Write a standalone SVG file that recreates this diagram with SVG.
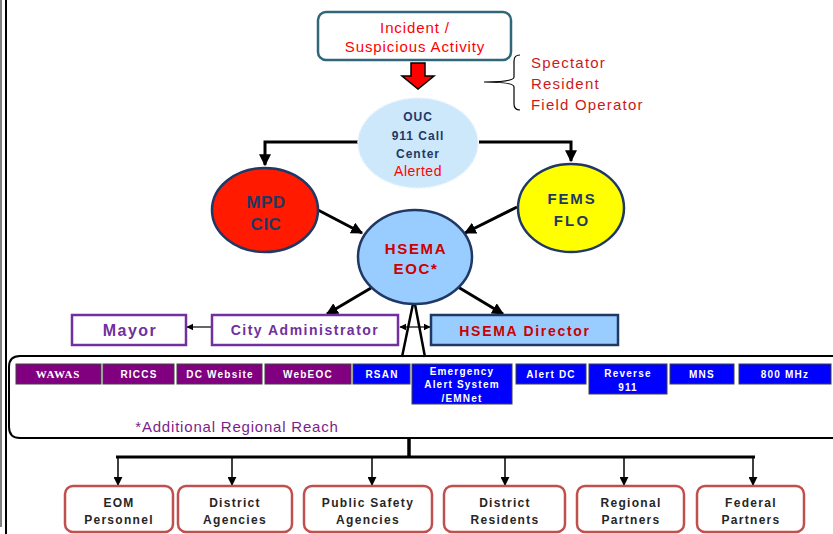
<svg xmlns="http://www.w3.org/2000/svg" width="833" height="534" viewBox="0 0 833 534">
<defs>
<style>
.t{font-family:"Liberation Sans",Arial,sans-serif;}
.nav{fill:#1F3864;font-weight:bold;}
.red{fill:#CC0000;font-weight:bold;}
.ln{stroke:#000;stroke-width:3;fill:none;}
.bar{stroke:#404040;stroke-width:1;}
.bt{fill:#fff;font-weight:bold;font-size:10px;letter-spacing:1.2px;text-anchor:middle;}
.pb{fill:#fff;stroke:#7030A0;stroke-width:2.5;}
.rb{fill:#fff;stroke:#C0504D;stroke-width:2.5;}
.rbt{fill:#262626;font-weight:bold;font-size:12px;letter-spacing:1.3px;text-anchor:middle;}
</style>
<marker id="ah" viewBox="0 0 10 10" refX="9" refY="5" markerWidth="4" markerHeight="4" orient="auto-start-reverse" markerUnits="strokeWidth">
<path d="M0,0 L10,5 L0,10 z" fill="#000"/>
</marker>
<marker id="ahs" viewBox="0 0 10 10" refX="9" refY="5" markerWidth="6" markerHeight="6" orient="auto-start-reverse" markerUnits="strokeWidth">
<path d="M0,0 L10,5 L0,10 z" fill="#000"/>
</marker>
</defs>
<rect width="833" height="534" fill="#fff"/>
<!-- left border lines -->
<line x1="1" y1="0" x2="1" y2="527" stroke="#000" stroke-width="1"/>
<line x1="6" y1="0" x2="6" y2="534" stroke="#000" stroke-width="2"/>

<!-- bottom panel -->
<g id="panel">
<path d="M834,356 H20 Q9,356 9,367 V427 Q9,438 20,438 H834" fill="#fff" stroke="#000" stroke-width="2"/>
<text class="t" x="237" y="432" font-size="15" fill="#7A1F8A" text-anchor="middle" letter-spacing="0.8">*Additional Regional Reach</text>
</g>

<g id="connectors">
<path class="ln" d="M358,142 H265 V165" marker-end="url(#ah)"/>
<path class="ln" d="M479,142 H571 V161" marker-end="url(#ah)"/>
<line class="ln" x1="318" y1="210" x2="362" y2="233" marker-end="url(#ah)"/>
<line class="ln" x1="517" y1="207" x2="465" y2="233" marker-end="url(#ah)"/>
<line class="ln" x1="371" y1="288" x2="327" y2="314" marker-end="url(#ah)"/>
<line class="ln" x1="458" y1="287" x2="503" y2="314" marker-end="url(#ah)"/>
<line x1="211" y1="327" x2="187" y2="327" stroke="#000" stroke-width="1.2" marker-end="url(#ahs)"/>
<line x1="400" y1="327" x2="430" y2="327" stroke="#000" stroke-width="1.2" marker-start="url(#ahs)" marker-end="url(#ahs)"/>
<path d="M402,357 L414,299 L425,357" fill="none" stroke="#000" stroke-width="2.5"/>
<line x1="409" y1="438" x2="409" y2="457" stroke="#000" stroke-width="3.5"/>
<line x1="116" y1="457" x2="755" y2="457" stroke="#000" stroke-width="3"/>
<g stroke="#000" stroke-width="1.5" marker-end="url(#ahs)">
<line x1="118" y1="457" x2="118" y2="485"/>
<line x1="232" y1="457" x2="232" y2="485"/>
<line x1="372" y1="457" x2="372" y2="485"/>
<line x1="505" y1="457" x2="505" y2="485"/>
<line x1="624" y1="457" x2="624" y2="485"/>
<line x1="753" y1="457" x2="753" y2="485"/>
</g>
<!-- red block arrow -->
<path d="M411,63 H425 V76 H434 L418,89 L402,76 H411 Z" fill="#FF0000" stroke="#000" stroke-width="1.5"/>
<!-- brace -->
<path d="M520,55 Q514,55 514,61 V77 Q514,82 484,82 Q514,82 514,87 V104 Q514,110 520,110" fill="none" stroke="#000" stroke-width="1.2"/>
</g>

<g id="incident">
<rect x="318" y="12" width="193" height="48" rx="8" fill="#fff" stroke="#31657A" stroke-width="2.5"/>
<text class="t" x="415" y="33" font-size="15" fill="#FF0000" text-anchor="middle" letter-spacing="0.9">Incident /</text>
<text class="t" x="415" y="52" font-size="15" fill="#FF0000" text-anchor="middle" letter-spacing="0.9">Suspicious Activity</text>
</g>

<g id="sources">
<text class="t" x="531" y="68" font-size="15" fill="#CC1A1A" letter-spacing="1.2">Spectator</text>
<text class="t" x="531" y="89" font-size="15" fill="#CC1A1A" letter-spacing="1.2">Resident</text>
<text class="t" x="531" y="110" font-size="15" fill="#CC1A1A" letter-spacing="1.2">Field Operator</text>
</g>

<g id="ouc">
<ellipse cx="418" cy="143" rx="60" ry="45" fill="#CCE8FA" stroke="#E8F4FC" stroke-width="1.5" stroke-dasharray="3,2"/>
<text class="t nav" x="418" y="121" font-size="12" text-anchor="middle" letter-spacing="1">OUC</text>
<text class="t nav" x="418" y="140" font-size="12" text-anchor="middle" letter-spacing="1">911 Call</text>
<text class="t nav" x="418" y="158" font-size="12" text-anchor="middle" letter-spacing="1">Center</text>
<text class="t" x="418" y="176" font-size="14" fill="#FF0000" text-anchor="middle" letter-spacing="0.5">Alerted</text>
</g>

<g id="mpd">
<ellipse cx="265" cy="210" rx="53" ry="42" fill="#FF1A00" stroke="#1F3864" stroke-width="2.5"/>
<text class="t nav" x="266" y="208" font-size="17" text-anchor="middle" letter-spacing="0.5">MPD</text>
<text class="t nav" x="266" y="230" font-size="17" text-anchor="middle" letter-spacing="0.5">CIC</text>
</g>

<g id="fems">
<ellipse cx="571" cy="208" rx="53" ry="44" fill="#FFFF00" stroke="#1F3864" stroke-width="2.5"/>
<text class="t nav" x="572" y="204" font-size="15" text-anchor="middle" letter-spacing="1.8">FEMS</text>
<text class="t nav" x="572" y="226" font-size="15" text-anchor="middle" letter-spacing="2.2">FLO</text>
</g>

<g id="eoc">
<ellipse cx="415" cy="257" rx="57" ry="47" fill="#99CCFF" stroke="#1F3864" stroke-width="2.5"/>
<text class="t red" x="416" y="254" font-size="15" text-anchor="middle" letter-spacing="1.7">HSEMA</text>
<text class="t red" x="416" y="274" font-size="15" text-anchor="middle" letter-spacing="1.7">EOC*</text>
</g>

<g id="mayor">
<rect class="pb" x="72" y="315" width="114" height="30"/>
<text class="t" x="130" y="336" font-size="16" font-weight="bold" fill="#7030A0" text-anchor="middle" letter-spacing="1.5">Mayor</text>
</g>
<g id="cityadmin">
<rect class="pb" x="212" y="315" width="186" height="30"/>
<text class="t" x="305" y="335" font-size="14" font-weight="bold" fill="#7030A0" text-anchor="middle" letter-spacing="1.5">City Administrator</text>
</g>
<g id="director">
<rect x="431" y="315" width="187" height="30" fill="#99CCFF" stroke="#1F3864" stroke-width="2.5"/>
<text class="t red" x="525" y="336" font-size="14" text-anchor="middle" letter-spacing="1.7">HSEMA Director</text>
</g>

<g id="wawas"><rect class="bar" x="16" y="364" width="85" height="20" fill="#800080"/><text x="58" y="378" fill="#fff" font-family="Liberation Serif,serif" font-weight="bold" font-size="11" text-anchor="middle" letter-spacing="0.8">WAWAS</text></g>
<g id="riccs"><rect class="bar" x="103" y="364" width="71" height="20" fill="#800080"/><text class="t bt" x="139" y="378">RICCS</text></g>
<g id="dcweb"><rect class="bar" x="177" y="364" width="85" height="20" fill="#800080"/><text class="t bt" x="220" y="378">DC Website</text></g>
<g id="webeoc"><rect class="bar" x="265" y="364" width="86" height="20" fill="#800080"/><text class="t bt" x="308" y="378">WebEOC</text></g>
<g id="rsan"><rect class="bar" x="353" y="364" width="57" height="20" fill="#0000FF"/><text class="t bt" x="382" y="378">RSAN</text></g>
<g id="eas"><rect class="bar" x="412" y="364" width="100" height="40" fill="#0000FF"/>
<text class="t bt" x="462" y="375">Emergency</text><text class="t bt" x="462" y="388">Alert System</text><text class="t bt" x="462" y="402">/EMNet</text></g>
<g id="alertdc"><rect class="bar" x="516" y="364" width="70" height="20" fill="#0000FF"/><text class="t bt" x="551" y="378">Alert DC</text></g>
<g id="rev911"><rect class="bar" x="589" y="364" width="78" height="30" fill="#0000FF"/><text class="t bt" x="628" y="377">Reverse</text><text class="t bt" x="628" y="391">911</text></g>
<g id="mns"><rect class="bar" x="670" y="364" width="64" height="20" fill="#0000FF"/><text class="t bt" x="702" y="378">MNS</text></g>
<g id="mhz"><rect class="bar" x="739" y="364" width="92" height="20" fill="#0000FF"/><text class="t bt" x="785" y="378">800 MHz</text></g>

<g id="eom"><rect class="rb" x="65" y="486" width="108" height="46" rx="8"/><text class="t rbt" x="119" y="507">EOM</text><text class="t rbt" x="119" y="524">Personnel</text></g>
<g id="distag"><rect class="rb" x="178" y="486" width="114" height="46" rx="8"/><text class="t rbt" x="235" y="507">District</text><text class="t rbt" x="235" y="524">Agencies</text></g>
<g id="pubsafety"><rect class="rb" x="304" y="486" width="128" height="46" rx="8"/><text class="t rbt" x="368" y="507">Public Safety</text><text class="t rbt" x="368" y="524">Agencies</text></g>
<g id="distres"><rect class="rb" x="444" y="486" width="121" height="46" rx="8"/><text class="t rbt" x="505" y="507">District</text><text class="t rbt" x="505" y="524">Residents</text></g>
<g id="regional"><rect class="rb" x="577" y="486" width="107" height="46" rx="8"/><text class="t rbt" x="631" y="507">Regional</text><text class="t rbt" x="631" y="524">Partners</text></g>
<g id="federal"><rect class="rb" x="697" y="486" width="107" height="46" rx="8"/><text class="t rbt" x="751" y="507">Federal</text><text class="t rbt" x="751" y="524">Partners</text></g>
</svg>
